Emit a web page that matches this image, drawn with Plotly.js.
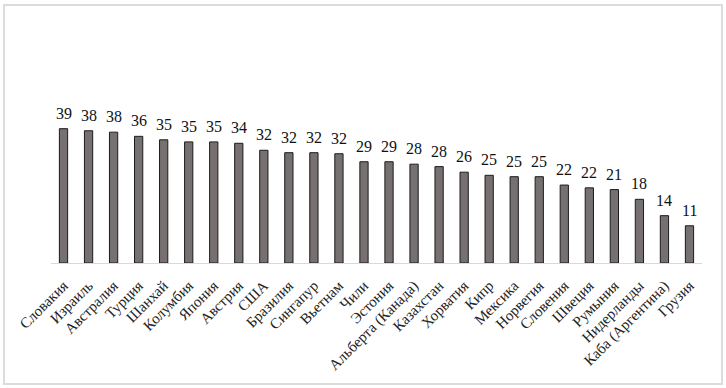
<!DOCTYPE html>
<html>
<head>
<meta charset="utf-8">
<script src="https://cdn.plot.ly/plotly-3.0.1.min.js"></script>
<style>
html,body{margin:0;padding:0;background:#fff;}
#wrap{position:relative;width:726px;height:388px;}
#chart{position:absolute;left:0;top:0;width:726px;height:388px;}
#frame{position:absolute;left:3px;top:4px;width:716px;height:377px;border:2px solid #dcdcdc;pointer-events:none;}
</style>
</head>
<body>
<div id="wrap"><div id="chart"></div><div id="frame"></div></div>
<script>
const categories = ["Словакия","Израиль","Австралия","Турция","Шанхай","Колумбия","Япония","Австрия","США","Бразилия","Сингапур","Вьетнам","Чили","Эстония","Альберта (Канада)","Казахстан","Хорватия","Кипр","Мексика","Норвегия","Словения","Швеция","Румыния","Нидерланды","Каба (Аргентина)","Грузия"];
const values = [38.6,38.0,37.6,36.4,35.4,34.8,34.8,34.4,32.4,31.7,31.7,31.4,29.1,29.1,28.4,27.7,26.1,25.2,24.8,24.8,22.4,21.6,21.1,18.3,13.6,10.7];
const valueLabels = ["39","38","38","36","35","35","35","34","32","32","32","32","29","29","28","28","26","25","25","25","22","22","21","18","14","11"];

const serif = "Times New Roman, Liberation Serif, serif";

const trace = {
  type: 'bar',
  x: categories,
  y: values,
  marker: {color: '#767070', line: {color: '#1c1c1c', width: 1}},
  hoverinfo: 'none'
};

const annotations = categories.map((c, i) => ({
  x: c, y: values[i], xref: 'x', yref: 'y',
  text: valueLabels[i], showarrow: false,
  yanchor: 'bottom', yshift: 5,
  font: {family: serif, size: 16, color: '#111'}
}));

const layout = {
  width: 726, height: 388,
  margin: {l: 51, r: 24, t: 20, b: 125},
  paper_bgcolor: '#fff', plot_bgcolor: '#fff',
  showlegend: false,
  bargap: 0.67,
  font: {family: serif},
  xaxis: {
    type: 'category',
    showline: true, linecolor: '#d9d9d9', linewidth: 1,
    showgrid: false, zeroline: false, ticks: '',
    tickangle: -45, automargin: false, ticklabelstandoff: 7,
    tickfont: {family: serif, size: 15, color: '#222'}
  },
  yaxis: {visible: false, range: [0, 69.83], showgrid: false, zeroline: false},
  annotations: annotations
};

Plotly.newPlot('chart', [trace], layout, {staticPlot: true, displayModeBar: false});
</script>
</body>
</html>
